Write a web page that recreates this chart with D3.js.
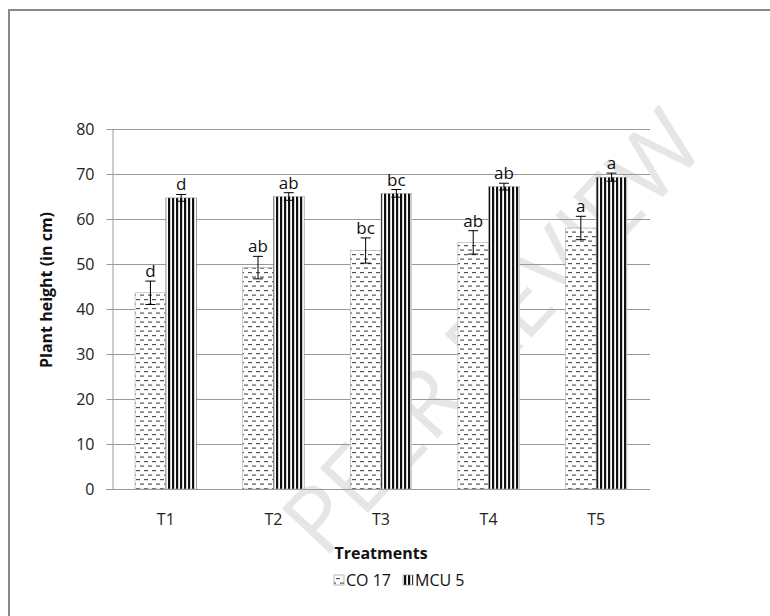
<!DOCTYPE html>
<html><head><meta charset="utf-8">
<script src="https://cdn.jsdelivr.net/npm/d3@7"></script>
<style>body{margin:0;background:#fff}svg{display:block}text{font-family:"Open Sans","Noto Sans",sans-serif}</style>
</head><body><svg id="c" width="770" height="616"></svg>
<script>
const categories = ["T1","T2","T3","T4","T5"];
const seriesNames = ["CO 17","MCU 5"];
const co17 = [43.6, 49.2, 53.0, 54.8, 58.0];
const co17Err = [2.6, 2.5, 2.8, 2.6, 2.6];
const co17Letters = ["d","ab","bc","ab","a"];
const mcu5 = [64.7, 65.0, 65.7, 67.2, 69.3];
const mcu5Err = [0.75, 0.85, 0.85, 0.75, 0.9];
const mcu5Letters = ["d","ab","bc","ab","a"];
const yTicks = [0,10,20,30,40,50,60,70,80];

const svg = d3.select("#c");
const defs = svg.append("defs");
// dashed pattern for CO 17
const p1 = defs.append("pattern").attr("id","dash").attr("patternUnits","userSpaceOnUse").attr("width",8).attr("height",9);
p1.append("rect").attr("width",8).attr("height",9).attr("fill","#fff");
p1.append("rect").attr("x",0).attr("y",2).attr("width",4).attr("height",1.2).attr("fill","#555");
p1.append("rect").attr("x",4).attr("y",6.5).attr("width",4).attr("height",1.2).attr("fill","#555");
// vertical stripes for MCU 5
const p2 = defs.append("pattern").attr("id","vstripe").attr("patternUnits","userSpaceOnUse").attr("width",4).attr("height",4);
p2.append("rect").attr("width",4).attr("height",4).attr("fill","#fff");
p2.append("rect").attr("x",0).attr("width",2.2).attr("height",4).attr("fill","#111");

// watermark
svg.append("text").attr("transform","translate(490,330) rotate(-47)")
  .attr("text-anchor","middle").attr("dominant-baseline","central")
  .attr("font-size",92).attr("fill","#e6e6e6")
  .text("PEER REVIEW");

// border
svg.append("rect").attr("x",9).attr("y",10).attr("width",800).attr("height",700)
  .attr("fill","none").attr("stroke","#888").attr("stroke-width",2);

const pLeft = 112, pRight = 650, pTop = 129, pBottom = 489;
const x0 = d3.scaleBand().domain(categories).range([pLeft,pRight]).paddingInner(0).paddingOuter(0);
const x1 = d3.scaleBand().domain(seriesNames).range([0,x0.bandwidth()]).paddingInner(0).paddingOuter(0.75);
const y = d3.scaleLinear().domain([0,80]).range([pBottom,pTop]);

// gridlines
svg.append("g").selectAll("line").data(yTicks.filter(d=>d>0)).join("line")
  .attr("x1",pLeft).attr("x2",pRight).attr("y1",d=>y(d)+0.5).attr("y2",d=>y(d)+0.5)
  .attr("stroke","#999").attr("stroke-width",1);

// y axis
const ya = svg.append("g").attr("transform",`translate(${pLeft+0.5},0)`)
  .call(d3.axisLeft(y).tickValues(yTicks).tickSize(6).tickPadding(12));
ya.select(".domain").attr("stroke","#999");
ya.selectAll(".tick line").attr("stroke","#999");
ya.selectAll(".tick text").attr("font-size",16).attr("fill","#222").attr("font-family","'Open Sans',sans-serif");

// x axis
const xa = svg.append("g").attr("transform",`translate(0,${pBottom+0.5})`)
  .call(d3.axisBottom(x0).tickSize(0).tickPadding(24));
xa.select(".domain").attr("stroke","#999").attr("d",`M${pLeft-6},0H${pRight}`);
xa.selectAll(".tick text").attr("font-size",16).attr("fill","#222").attr("font-family","'Open Sans',sans-serif");

const series = [
  {name:"CO 17", vals:co17, err:co17Err, letters:co17Letters, fill:"url(#dash)"},
  {name:"MCU 5", vals:mcu5, err:mcu5Err, letters:mcu5Letters, fill:"url(#vstripe)"}
];
series.forEach(s=>{
  const g = svg.append("g");
  const data = categories.map((c,i)=>({c, v:s.vals[i], e:s.err[i], l:s.letters[i]}));
  const bx = d=>x0(d.c)+x1(s.name);
  const bw = x1.bandwidth();
  g.selectAll("rect").data(data).join("rect")
    .attr("x",bx).attr("y",d=>y(d.v)).attr("width",bw).attr("height",d=>y(0)-y(d.v))
    .attr("fill",s.fill).attr("stroke","#aaa").attr("stroke-width",0.6);
  g.selectAll("line.eb").data(data).join("line").attr("class","eb")
    .attr("x1",d=>bx(d)+bw/2).attr("x2",d=>bx(d)+bw/2)
    .attr("y1",d=>y(d.v+d.e)).attr("y2",d=>y(d.v-d.e)).attr("stroke","#000");
  g.selectAll("line.c1").data(data).join("line").attr("class","c1")
    .attr("x1",d=>bx(d)+bw/2-5).attr("x2",d=>bx(d)+bw/2+5)
    .attr("y1",d=>y(d.v+d.e)).attr("y2",d=>y(d.v+d.e)).attr("stroke","#000");
  g.selectAll("line.c2").data(data).join("line").attr("class","c2")
    .attr("x1",d=>bx(d)+bw/2-5).attr("x2",d=>bx(d)+bw/2+5)
    .attr("y1",d=>y(d.v-d.e)).attr("y2",d=>y(d.v-d.e)).attr("stroke","#000");
  g.selectAll("text").data(data).join("text")
    .attr("x",d=>bx(d)+bw/2).attr("y",d=>y(d.v+d.e)-4)
    .attr("text-anchor","middle").attr("font-size",17).attr("fill","#111")
    .text(d=>d.l);
});

// axis titles
svg.append("text").attr("transform","translate(52,290) rotate(-90)")
  .attr("text-anchor","middle").attr("font-size",16).attr("font-weight","bold").attr("fill","#111")
  .text("Plant height (in cm)");
svg.append("text").attr("x",381).attr("y",559).attr("text-anchor","middle")
  .attr("font-size",16).attr("font-weight","bold").attr("fill","#111").text("Treatments");

// legend
const leg = svg.append("g");
const legItems = [{name:seriesNames[0], fill:"url(#dash)", x:334},{name:seriesNames[1], fill:"url(#vstripe)", x:403}];
legItems.forEach(it=>{
  leg.append("rect").attr("x",it.x).attr("y",575).attr("width",10).attr("height",10)
    .attr("fill",it.fill).attr("stroke","#888").attr("stroke-width",0.6);
  leg.append("text").attr("x",it.x+12).attr("y",586).attr("font-size",16).attr("fill","#111").text(it.name);
});
</script></body></html>
